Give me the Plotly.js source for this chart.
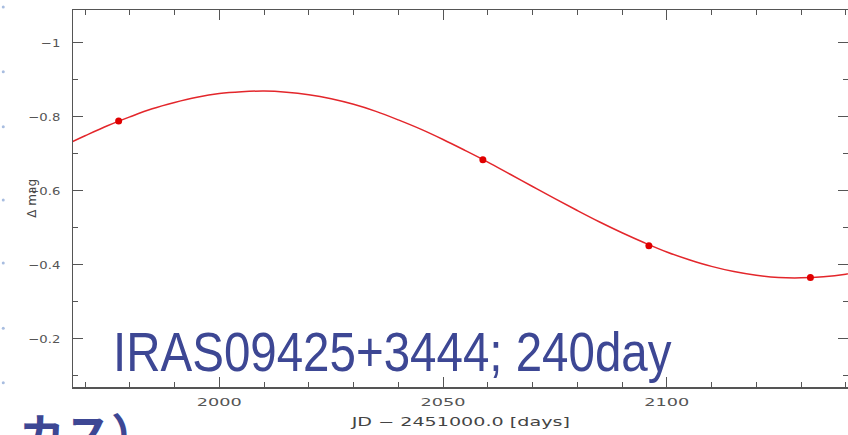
<!DOCTYPE html>
<html><head><meta charset="utf-8">
<script src="https://cdn.plot.ly/plotly-3.0.1.min.js"></script>
<style>html,body{margin:0;padding:0;background:#fff;overflow:hidden}</style>
</head><body><div id="chart" style="width:848px;height:435px"></div>
<script>
// fitted light curve
const fitDays = [1965,1970,1975,1980,1985,1990,1995,2000,2005,2010,2015,2020,2025,2030,2035,2040,2045,2050,2055,2060,2065,2070,2075,2080,2085,2090,2095,2100,2105,2110,2115,2120,2125,2130,2135,2140,2145];
const fitMag  = [-0.721,-0.749,-0.776,-0.800,-0.822,-0.839,-0.853,-0.863,-0.868,-0.870,-0.867,-0.860,-0.849,-0.834,-0.815,-0.792,-0.767,-0.739,-0.709,-0.678,-0.645,-0.612,-0.579,-0.547,-0.516,-0.487,-0.460,-0.435,-0.414,-0.396,-0.382,-0.372,-0.366,-0.365,-0.368,-0.375,-0.386];
// observed points
const obsDays = [1977.5, 2058.9, 2096.0, 2132.1];
const obsMag  = [-0.789, -0.684, -0.452, -0.366];
// ticks
const xTickVals = [2000, 2050, 2100];
const xTickText = ['2000', '2050', '2100'];
const yTickVals = [-1, -0.8, -0.6, -0.4, -0.2];
const yTickText = ['\u22121', '\u22120.8', '\u22120.6', '\u22120.4', '\u22120.2'];
const sideDotsY = [1.008, 0.836, 0.690, 0.496, 0.329, 0.156, 0.011];

const axisCol = '#555555';
const tickFont = {family: 'DejaVu Sans, sans-serif', size: 11, color: '#555555'};

const traces = [
  {x: fitDays, y: fitMag, mode: 'lines', type: 'scatter', line: {color: '#e3262b', width: 1.5, shape: 'spline'}, hoverinfo: 'skip'},
  {x: obsDays, y: obsMag, mode: 'markers', type: 'scatter', marker: {color: '#e00000', size: 7}}
];

const shapes = sideDotsY.map(v => ({
  type: 'circle', xref: 'paper', yref: 'paper', xsizemode: 'pixel', ysizemode: 'pixel',
  xanchor: -0.09, yanchor: v, x0: -1.5, x1: 1.5, y0: -1.5, y1: 1.5,
  fillcolor: '#a8bde0', line: {width: 0}
}));

const layout = {
  width: 848, height: 435,
  margin: {l: 73, r: 0, t: 10, b: 48},
  paper_bgcolor: '#ffffff', plot_bgcolor: '#ffffff',
  showlegend: false,
  xaxis: {
    range: [1967.3, 2140.5], showgrid: false, zeroline: false,
    showline: true, linecolor: axisCol, linewidth: 1.5, mirror: 'allticks',
    ticks: 'inside', ticklen: 10, tickwidth: 1, tickcolor: axisCol,
    tickvals: xTickVals, ticktext: xTickText, tickfont: tickFont, ticklabelstandoff: 4,
    minor: {dtick: 10, tick0: 0, ticks: 'inside', ticklen: 5, tickcolor: axisCol, showgrid: false},
    title: {text: 'JD \u2212 2451000.0 [days]', font: {family: 'DejaVu Sans, sans-serif', size: 12, color: '#444'}, standoff: 10},
    fixedrange: true
  },
  yaxis: {
    range: [-0.070, -1.089], showgrid: false, zeroline: false,
    showline: true, linecolor: axisCol, linewidth: 1.5, mirror: 'allticks',
    ticks: 'inside', ticklen: 10, tickwidth: 1, tickcolor: axisCol,
    tickvals: yTickVals, ticktext: yTickText, tickfont: tickFont, ticklabelstandoff: 9,
    minor: {dtick: 0.1, tick0: 0, ticks: 'inside', ticklen: 5, tickcolor: axisCol, showgrid: false},
    fixedrange: true
  },
  annotations: [
    {xref: 'paper', yref: 'paper', x: -0.054, y: 0.5, xanchor: 'center', yanchor: 'middle', text: '\u0394 mag', textangle: -90, showarrow: false,
     font: {family: 'DejaVu Sans, sans-serif', size: 12, color: '#444'}},
    {xref: 'paper', yref: 'paper', x: 0.049, y: 0.093, xanchor: 'left', yanchor: 'middle',
     text: 'IRAS09425+3444; 240day', showarrow: false,
     font: {family: 'Liberation Sans, sans-serif', size: 55, color: '#3d4794'}},
    {xref: 'paper', yref: 'paper', x: -0.072, y: -0.027, xanchor: 'left', yanchor: 'top',
     text: '<b>カス）</b>', showarrow: false,
     font: {family: 'Noto Sans CJK JP, sans-serif', size: 46, color: '#3d4794'}}
  ],
  shapes: shapes
};

function stretch(el, sx, anchor) {
  const bb = el.getBBox();
  if (!bb.width) return;
  const cx = anchor === 'left' ? bb.x : anchor === 'right' ? bb.x + bb.width : bb.x + bb.width / 2;
  const prior = el.getAttribute('transform') || '';
  el.setAttribute('transform', prior + ' translate(' + cx + ',0) scale(' + sx + ',1) translate(' + (-cx) + ',0)');
}

Plotly.newPlot('chart', traces, layout, {displayModeBar: false, staticPlot: true}).then(gd => {
  // the reference's lettering is horizontally stretched; mimic that
  gd.querySelectorAll('.xtick text').forEach(t => stretch(t, 45 / t.getBBox().width, 'center'));
  gd.querySelectorAll('.ytick text').forEach(t => stretch(t, 1.2, 'right'));
  const xt = gd.querySelector('.xtitle');
  if (xt) stretch(xt, 220 / xt.getBBox().width, 'center');
  const ann = gd.querySelectorAll('.annotation-text');
  if (ann[1]) stretch(ann[1], 559 / ann[1].getBBox().width, 'left');
});
</script>
</body></html>
